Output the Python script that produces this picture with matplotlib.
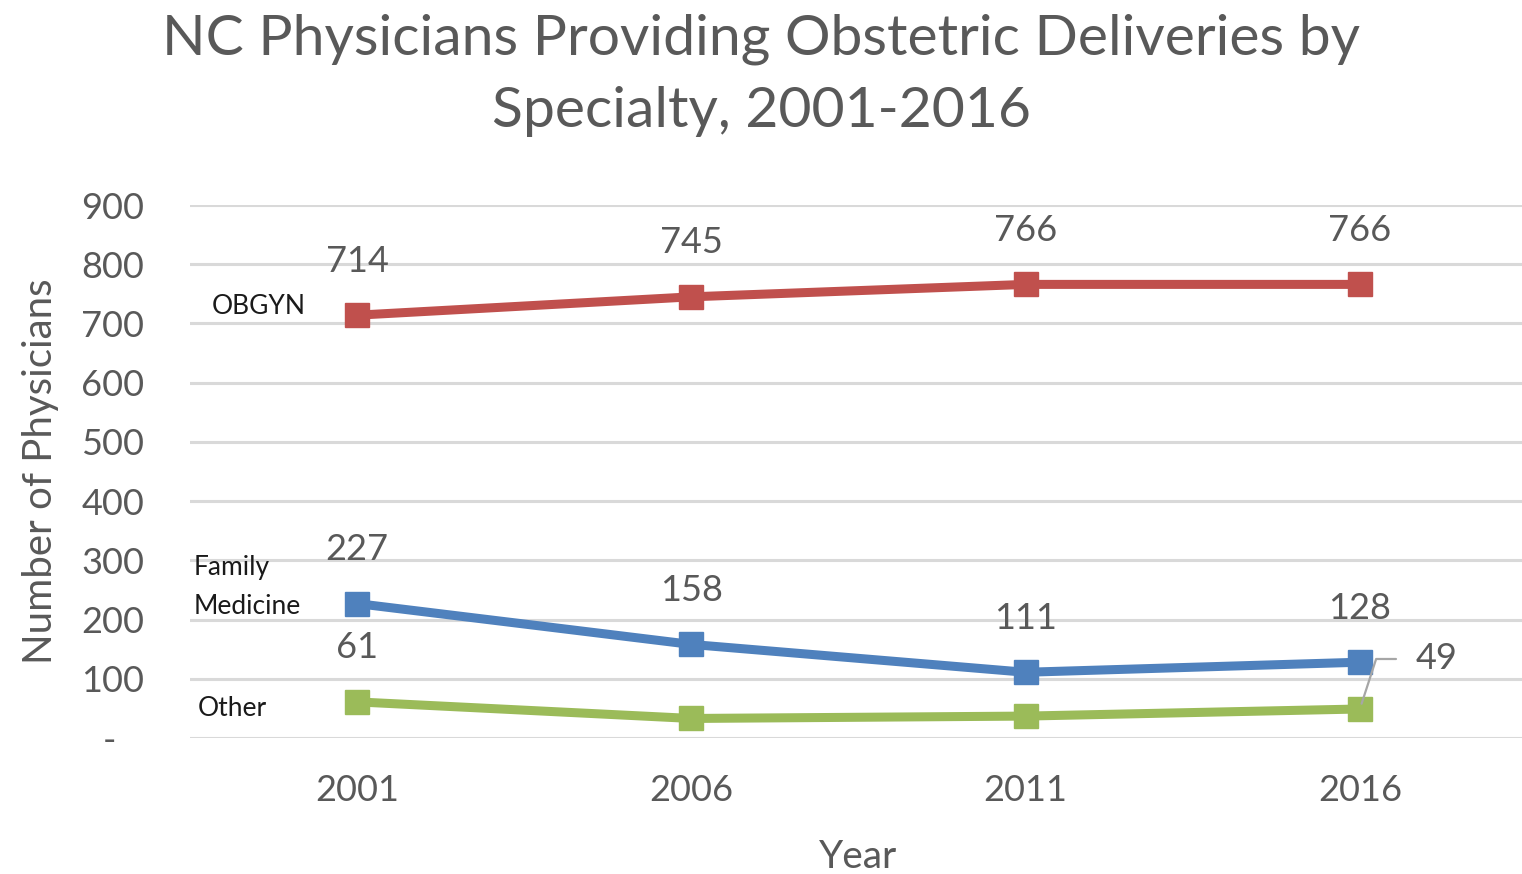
import matplotlib
matplotlib.use("Agg")
import matplotlib.pyplot as plt

plt.rcParams['font.family'] = ['Lato', 'DejaVu Sans']

years = ["2001", "2006", "2011", "2016"]
obgyn = [714, 745, 766, 766]
family_medicine = [227, 158, 111, 128]
other = [61, 33, 37, 49]
y_ticks = [0, 100, 200, 300, 400, 500, 600, 700, 800, 900]
y_tick_labels = ["-   ", "100", "200", "300", "400", "500", "600", "700", "800", "900"]

RED = "#C0504D"
BLUE = "#4F81BD"
GREEN = "#9BBB59"
GRAY = "#595959"

fig = plt.figure(figsize=(15.22, 8.74), dpi=100)
ax = fig.add_axes([0.1248, 0.1556, 0.8785, 0.6098])

x = list(range(len(years)))
for vals, col in [(obgyn, RED), (family_medicine, BLUE), (other, GREEN)]:
    ax.plot(x, vals, color=col, lw=6.5, marker='s', markersize=17,
            solid_capstyle='round', zorder=3)

ax.set_xlim(-0.5, len(years) - 0.5)
ax.set_ylim(0, 900)
ax.set_yticks(y_ticks)
ax.set_yticklabels(y_tick_labels)
ax.set_xticks(x)
ax.set_xticklabels(years)
ax.yaxis.grid(True, color="#D9D9D9", lw=2.2)
ax.set_axisbelow(True)
for s in ax.spines.values():
    s.set_visible(False)
ax.tick_params(axis='both', length=0, labelsize=26, colors=GRAY)
ax.tick_params(axis='y', pad=33)
ax.tick_params(axis='x', pad=26)

ax.set_xlabel("Year", fontsize=28, color=GRAY, labelpad=23)
ax.set_ylabel("Number of Physicians", fontsize=29, color=GRAY, labelpad=16)

# value labels above the points
for vals in (obgyn, family_medicine):
    for xi, v in zip(x, vals):
        ax.annotate(str(v), (xi, v), xytext=(0, 39), textcoords='offset points',
                    ha='center', va='center', fontsize=26, color=GRAY)
ax.annotate(str(other[0]), (x[0], other[0]), xytext=(0, 39), textcoords='offset points',
            ha='center', va='center', fontsize=26, color=GRAY)

# last "Other" value with a leader line
ax.annotate(str(other[-1]), (x[-1], other[-1]), xytext=(40, 36), textcoords='offset points',
            ha='left', va='center', fontsize=26, color=GRAY,
            arrowprops=dict(arrowstyle='-', color='#A6A6A6', lw=1.6,
                            connectionstyle='angle,angleA=180,angleB=72,rad=0',
                            shrinkA=12, shrinkB=4))

# series names beside the first points
ax.annotate("OBGYN", (x[0], obgyn[0]), xytext=(-71, 6), textcoords='offset points',
            ha='center', va='center', fontsize=19, color="#1A1A1A")
ax.annotate("Family\nMedicine", (x[0], family_medicine[0]), xytext=(-118, 12),
            textcoords='offset points', ha='left', va='center', fontsize=19,
            color="#1A1A1A", linespacing=1.7)
ax.annotate("Other", (x[0], other[0]), xytext=(-115, -5), textcoords='offset points',
            ha='left', va='center', fontsize=19, color="#1A1A1A")

fig.text(0.50, 0.985, "NC Physicians Providing Obstetric Deliveries by\nSpecialty, 2001-2016",
         ha='center', va='top', fontsize=41, color=GRAY, linespacing=1.52)

fig.savefig("out.png", dpi=100)
